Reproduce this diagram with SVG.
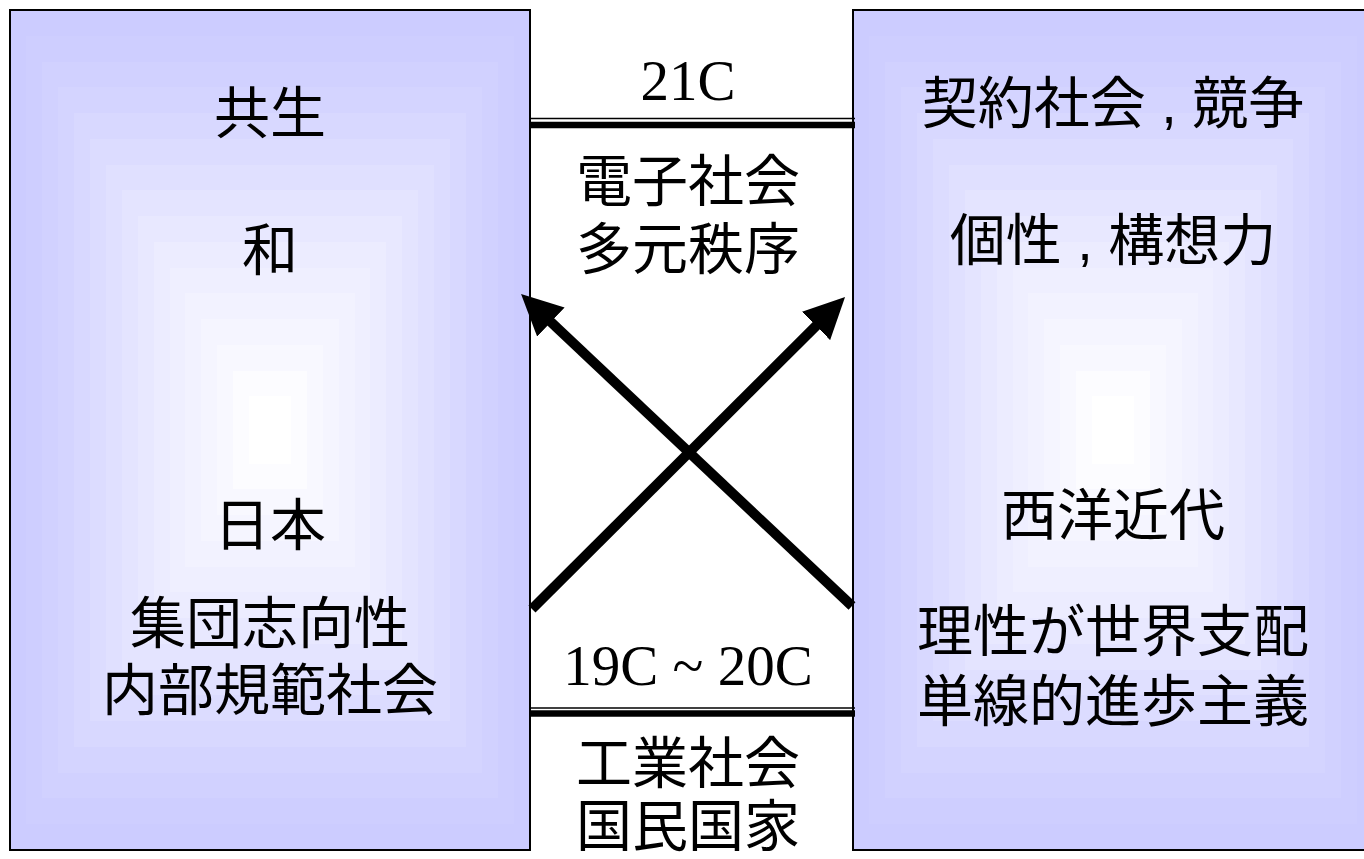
<svg xmlns="http://www.w3.org/2000/svg" xmlns:xlink="http://www.w3.org/1999/xlink" width="1364" height="859" viewBox="0 0 1364 859">
<style>
.jp{font-family:"Liberation Sans","Noto Sans CJK JP",sans-serif;font-size:56px;fill:#000;text-anchor:middle}
.en{font-family:"Liberation Serif",serif;font-size:57px;fill:#000;text-anchor:middle}
.frame{fill:none;stroke:#000;stroke-width:2}
.thin{stroke:#000;stroke-width:1.5}
.thick{stroke:#000;stroke-width:6.5}
.arrow{stroke:#000;stroke-width:10;fill:none;marker-end:url(#ah)}
</style>
<defs>
<marker id="ah" viewBox="0 -20 41 40" markerWidth="41" markerHeight="40" refX="10" refY="0" orient="auto" markerUnits="userSpaceOnUse">
<path d="M0,-20 L41,0 L0,20 Z" fill="#000"/>
</marker>
<g id="grad">
<rect x="0" y="0" width="520" height="840" fill="#CCCCFF"/>
<rect x="16" y="26" width="488" height="788" fill="#CECEFF"/>
<rect x="32" y="52" width="456" height="736" fill="#D1D1FF"/>
<rect x="48" y="77" width="424" height="686" fill="#D4D4FF"/>
<rect x="64" y="103" width="392" height="634" fill="#D8D8FF"/>
<rect x="80" y="129" width="360" height="582" fill="#DCDCFF"/>
<rect x="96" y="155" width="328" height="530" fill="#E0E0FF"/>
<rect x="112" y="180" width="296" height="480" fill="#E4E4FF"/>
<rect x="128" y="206" width="264" height="428" fill="#E8E8FF"/>
<rect x="144" y="232" width="232" height="376" fill="#ECECFF"/>
<rect x="160" y="258" width="200" height="324" fill="#EFEFFF"/>
<rect x="175" y="283" width="170" height="274" fill="#F2F2FF"/>
<rect x="191" y="309" width="138" height="222" fill="#F5F5FF"/>
<rect x="207" y="335" width="106" height="170" fill="#F8F8FF"/>
<rect x="223" y="361" width="74" height="118" fill="#FCFCFF"/>
<rect x="239" y="386" width="42" height="68" fill="#FFFFFF"/>
</g>
</defs>
<rect width="1364" height="859" fill="#FFFFFF"/>
<g id="left-box">
<use xlink:href="#grad" href="#grad" x="10" y="10"/>
<rect class="frame" x="10" y="10" width="520" height="840"/>
<text class="jp" x="270" y="133">共生</text>
<text class="jp" x="270" y="270">和</text>
<text class="jp" x="270" y="545">日本</text>
<text class="jp" x="270" y="643">集団志向性</text>
<text class="jp" x="270" y="710">内部規範社会</text>
</g>
<g id="right-box">
<use xlink:href="#grad" href="#grad" x="853" y="10"/>
<rect class="frame" x="853" y="10" width="520" height="840"/>
<text class="jp" x="1113" y="123">契約社会 , 競争</text>
<text class="jp" x="1113" y="260">個性 , 構想力</text>
<text class="jp" x="1113" y="535">西洋近代</text>
<text class="jp" x="1113" y="651">理性が世界支配</text>
<text class="jp" x="1113" y="721">単線的進歩主義</text>
</g>
<g id="era-21c">
<line class="thin" x1="529" y1="118.5" x2="855" y2="118.5"/>
<line class="thick" x1="529" y1="125" x2="855" y2="125"/>
<text class="en" x="688" y="100">21C</text>
<text class="jp" x="688" y="201">電子社会</text>
<text class="jp" x="688" y="269">多元秩序</text>
</g>
<g id="era-19-20c">
<line class="thin" x1="529" y1="708" x2="855" y2="708"/>
<line class="thick" x1="529" y1="713.5" x2="855" y2="713.5"/>
<text class="en" x="688" y="685">19C ~ 20C</text>
<text class="jp" x="688" y="783">工業社会</text>
<text class="jp" x="688" y="846">国民国家</text>
</g>
<g id="connectors">
<line class="arrow" x1="852" y1="606" x2="543.6" y2="315.2"/>
<line class="arrow" x1="532" y1="609" x2="823.1" y2="318.9"/>
</g>
</svg>
